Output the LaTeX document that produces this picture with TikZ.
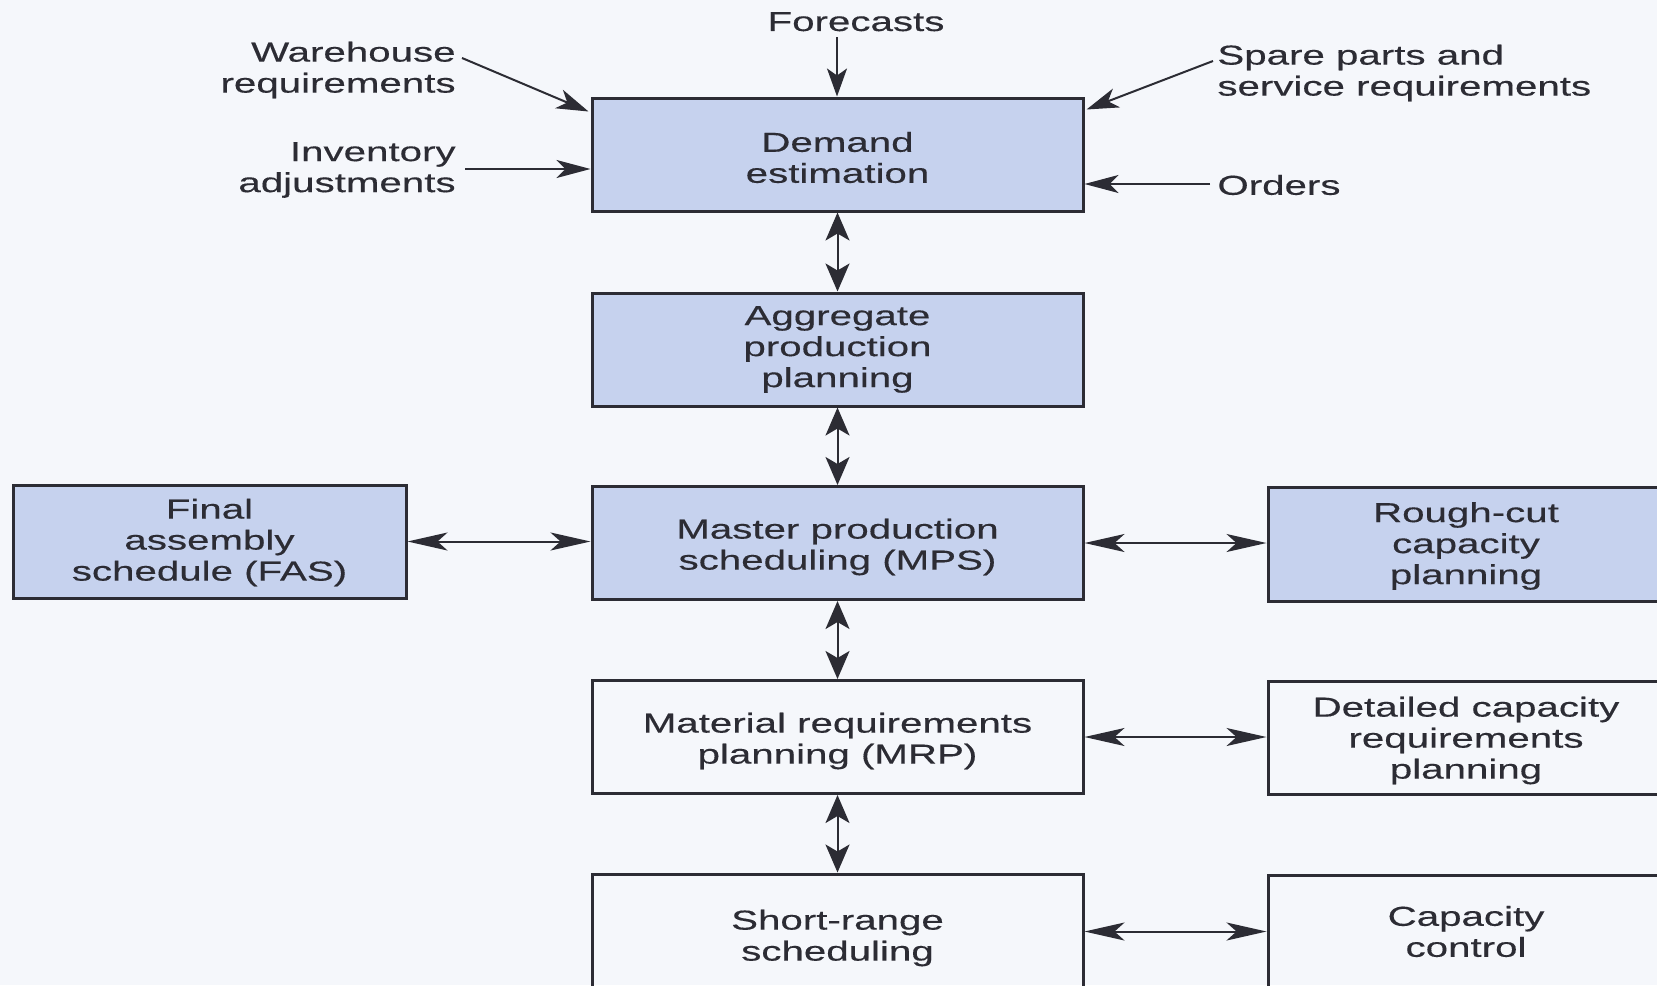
\documentclass[tikz,border=0pt]{standalone}
\usepackage{fontspec}
\setmainfont{Liberation Sans}[FakeStretch=1.47,FakeBold=0.35]
\usetikzlibrary{arrows.meta,calc}
\definecolor{ink}{RGB}{44,44,52}
\definecolor{boxblue}{RGB}{198,210,238}
\definecolor{paper}{RGB}{245,247,251}
\begin{document}
\begin{tikzpicture}[x=0.5pt,y=-0.5pt,
  every node/.style={font=\fontsize{13.7}{15.5}\selectfont, text=ink},
  box/.style={draw=ink, line width=1.5pt, inner sep=0pt,
              minimum width=245.5pt, minimum height=56.5pt},
  shaded/.style={box, fill=boxblue},
  plain/.style={box},
  sidebox/.style={minimum width=198pt},
  boxtext/.style={inner sep=0pt, align=center},
  tag/.style={inner sep=0pt},
  link/.style={draw=ink, line width=1pt},
  vboth/.style={link, {Stealth[length=14pt,width=12pt,inset=3.5pt]}-{Stealth[length=14pt,width=12pt,inset=3.5pt]}},
  hboth/.style={link, {Stealth[length=20pt,width=9pt,inset=5pt]}-{Stealth[length=20pt,width=9pt,inset=5pt]}},
  vin/.style={link, -{Stealth[length=14pt,width=10pt,inset=3.5pt]}},
  hin/.style={link, -{Stealth[length=17pt,width=9pt,inset=4.5pt]}},
  din/.style={link, -{Stealth[length=16pt,width=10pt,inset=4.5pt]}}
]
\useasboundingbox (0,0) rectangle (1657,985);
\clip (0,0) rectangle (1657,985);
\fill[paper] (0,0) rectangle (1657,985);

% main planning column
\node[shaded] (demand) at (837.5,154.5) {};
\node[shaded] (agg)    at (837.5,349.5) {};
\node[shaded] (mps)    at (837.5,543)   {};
\node[plain]  (mrp)    at (837.5,737)   {};
\node[plain, minimum height=58pt] (srs) at (837.5,932) {};

% side boxes
\node[shaded, minimum width=196.5pt] (fas) at (209.5,541.5) {};
\node[shaded, sidebox, minimum height=57pt] (rough) at (1466,544) {};
\node[plain, sidebox] (crp) at (1466,737.5) {};
\node[plain, sidebox] (cc)  at (1466,931.5) {};

% box captions
\node[boxtext] (demand-t) at ($(demand)+(0,3)$) {Demand\\estimation};
\node[boxtext] (agg-t)    at ($(agg)+(0,0)$)    {Aggregate\\production\\planning};
\node[boxtext] (mps-t)    at ($(mps)+(0,4)$)    {Master production\\scheduling (MPS)};
\node[boxtext] (mrp-t)    at ($(mrp)+(0,4)$)    {Material requirements\\planning (MRP)};
\node[boxtext] (srs-t)    at ($(srs)+(0,6)$)    {Short-range\\scheduling};
\node[boxtext] (fas-t)    at ($(fas)+(0,1)$)    {Final\\assembly\\schedule (FAS)};
\node[boxtext] (rough-t)  at ($(rough)+(0,2)$)  {Rough-cut\\capacity\\planning};
\node[boxtext] (crp-t)    at ($(crp)+(0,3)$)    {Detailed capacity\\requirements\\planning};
\node[boxtext] (cc-t)     at ($(cc)+(0,0)$)     {Capacity\\control};

% inputs to demand estimation
\node[tag, anchor=base] (fc) at (856,31) {Forecasts};
\node[tag, anchor=east, align=right] (wh) at (456,70) {Warehouse\\requirements};
\node[tag, anchor=east, align=right] (inv) at (456,170) {Inventory\\adjustments};
\node[tag, anchor=west, align=left] (spare) at (1217,73) {Spare parts and\\service requirements};
\node[tag, anchor=west] (ord) at (1217,185) {Orders};

\coordinate (fctail) at (837,37);
\coordinate (whtail) at (462,58);
\coordinate (invtail) at (465,169);
\coordinate (sptail) at (1213,61);
\coordinate (ordtail) at (1210,184);

\draw[vin] (fctail) -- (demand.north -| fctail);
\draw[din] (whtail) -- ($(demand.north west)+(-2,15)$);
\draw[hin] (invtail) -- (demand.west |- invtail);
\draw[din] (sptail) -- ($(demand.north east)+(2,13)$);
\draw[hin] (ordtail) -- (demand.east |- ordtail);

% vertical links
\draw[vboth] (demand.south) -- (agg.north);
\draw[vboth] (agg.south) -- (mps.north);
\draw[vboth] (mps.south) -- (mrp.north);
\draw[vboth] (mrp.south) -- (srs.north);

% horizontal links
\draw[hboth] (fas.east) -- (mps.west |- fas.east);
\draw[hboth] (mps.east) -- (rough.west |- mps.east);
\draw[hboth] (mrp.east) -- (crp.west |- mrp.east);
\draw[hboth] (srs.east |- cc.west) -- (cc.west);
\end{tikzpicture}
\end{document}
